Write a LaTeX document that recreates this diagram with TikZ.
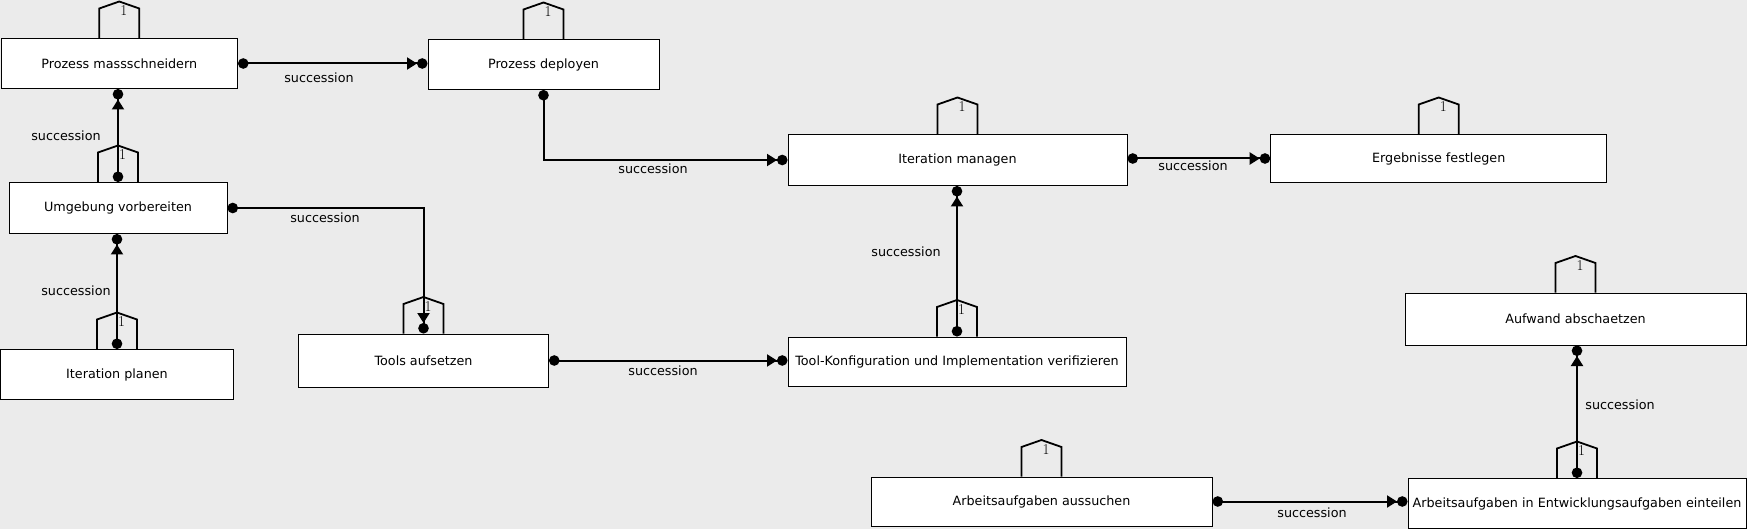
\documentclass[tikz,border=0pt]{standalone}
\usepackage{fontspec}
\newfontfamily\dvs{DejaVu Sans}
\usetikzlibrary{arrows.meta}
\definecolor{bg}{RGB}{235,235,235}
\begin{document}
\begin{tikzpicture}[x=1pt,y=-1pt,
  box/.style={draw=black, line width=1pt, fill=white, inner sep=0pt, font=\dvs\fontsize{12.75}{15}\selectfont},
  lbl/.style={font=\dvs\fontsize{12.75}{15}\selectfont, inner sep=0pt},
  one/.style={font=\fontsize{15}{17}\selectfont, inner sep=0pt},
  tabline/.style={line width=1.8pt},
  conn/.style={line width=2pt, {Circle[length=10.5pt]}-{Triangle[length=10pt,width=12pt]Circle[length=10.5pt]}}]
\fill[bg] (0,0) rectangle (1747,529);
\useasboundingbox (0,0) rectangle (1747,529);

\node[box, minimum width=236.5pt, minimum height=50pt] (pm) at (119.25,63.5) {Prozess massschneidern};
\node[box, minimum width=231pt, minimum height=50pt] (pd) at (543.5,64.5) {Prozess deployen};
\node[box, minimum width=218pt, minimum height=51pt] (umg) at (118,208) {Umgebung vorbereiten};
\node[box, minimum width=233pt, minimum height=50pt] (ip) at (117,374.5) {Iteration planen};
\node[box, minimum width=250pt, minimum height=53pt] (ta) at (423.5,360.5) {Tools aufsetzen};
\node[box, minimum width=338pt, minimum height=49pt] (tk) at (957,361.5) {Tool-Konfiguration und Implementation verifizieren};
\node[box, minimum width=339pt, minimum height=51pt] (im) at (957.5,160) {Iteration managen};
\node[box, minimum width=336pt, minimum height=48pt] (ef) at (1438.7,158.5) {Ergebnisse festlegen};
\node[box, minimum width=341pt, minimum height=52pt] (aa) at (1575.5,319) {Aufwand abschaetzen};
\node[box, minimum width=341pt, minimum height=49pt] (as) at (1041.5,501.5) {Arbeitsaufgaben aussuchen};
\node[box, minimum width=338pt, minimum height=50pt] (ae) at (1577,503.5) {Arbeitsaufgaben in Entwicklungsaufgaben einteilen};

\foreach \n in {pm,pd,umg,ip,ta,tk,im,ef,aa,as,ae} {
  \draw[tabline] ([xshift=-20pt]\n.north) -- ++(0,-29.5) -- ++(20,-7) -- ++(20,7) -- ++(0,29.5);
  \node[one] (one-\n) at ([xshift=4.5pt,yshift=27pt]\n.north) {1};
}

\draw[conn] (pm.east) -- (pm.east -| pd.west);
\draw[conn] (umg.north) -- (umg.north |- pm.south);
\draw[conn] (ip.north) -- (ip.north |- umg.south);
\draw[conn] (umg.east) -| (ta.north);
\draw[conn] (pd.south) |- (im.west);
\draw[conn] (im.east |- ef.west) -- (ef.west);
\draw[conn] (ta.east) -- (ta.east -| tk.west);
\draw[conn] (tk.north) -- (tk.north |- im.south);
\draw[conn] (as.east) -- (as.east -| ae.west);
\draw[conn] (ae.north) -- (ae.north |- aa.south);

\node[lbl] (l1) at (319,77.5) {succession};
\node[lbl] (l2) at (66,136) {succession};
\node[lbl] (l3) at (76,291) {succession};
\node[lbl] (l4) at (325,217.5) {succession};
\node[lbl] (l5) at (653,169) {succession};
\node[lbl] (l6) at (1193,166) {succession};
\node[lbl] (l7) at (663,371) {succession};
\node[lbl] (l8) at (906,252) {succession};
\node[lbl] (l9) at (1312,513) {succession};
\node[lbl] (l10) at (1620,405) {succession};
\end{tikzpicture}
\end{document}
